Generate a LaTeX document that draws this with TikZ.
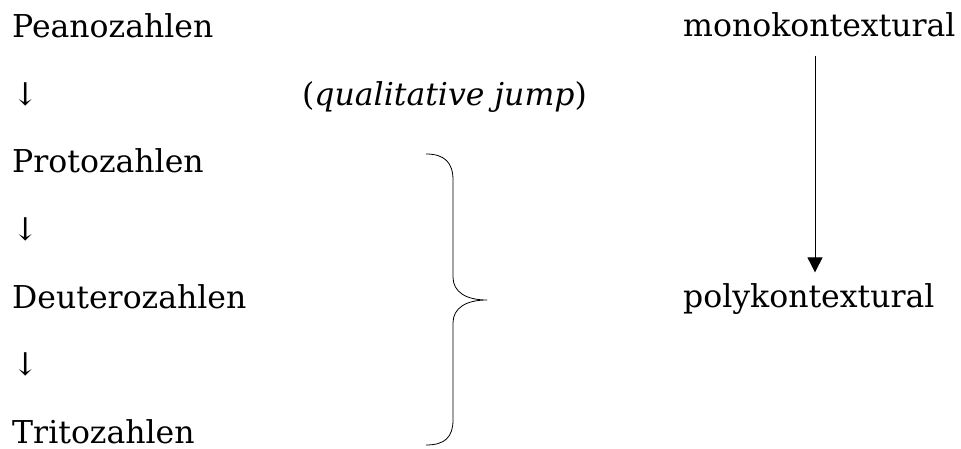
\documentclass[tikz,border=0pt]{standalone}
\usepackage{fontspec}
\setmainfont{DejaVu Serif}
\usetikzlibrary{arrows.meta}
\tikzset{
  txt/.style={anchor=base west, inner sep=0pt, font=\fontsize{31.5}{37}\selectfont},
  conn/.style={line width=0.8pt, -{Triangle[length=15pt,width=15pt]}},
  bracestyle/.style={line width=0.8pt}
}
\begin{document}
\begin{tikzpicture}[x=1pt,y=1pt]
\useasboundingbox (0,0) rectangle (961,-449);
\node[txt] (pea) at (12,-38) {Peanozahlen};
\node[txt] (a1) at (12,-105.5) {↓};
\node[txt] (proto) at (12,-173) {Protozahlen};
\node[txt] (a2) at (12,-240.5) {↓};
\node[txt] (deut) at (12,-308) {Deuterozahlen};
\node[txt] (a3) at (12,-375.5) {↓};
\node[txt] (trito) at (12,-443) {Tritozahlen};
\node[txt] (jump) at (302,-105.5) {(\textit{qualitative jump})};
\node[txt] (mono) at (683,-37) {monokontextural};
\node[txt] (poly) at (683,-307) {polykontextural};
\coordinate (ax) at (815,0);
\draw[conn] ([yshift=-18pt]mono.south -| ax) -- ([yshift=10.5pt]poly.north -| ax);
\draw[bracestyle] (426,-154) .. controls (445,-154) and (453,-163) .. (453,-180)
  -- (453,-277) .. controls (453,-292) and (466,-300) .. (487,-300)
  .. controls (466,-300) and (453,-308) .. (453,-323)
  -- (453,-420) .. controls (453,-437) and (445,-445) .. (426,-445);
\end{tikzpicture}
\end{document}
